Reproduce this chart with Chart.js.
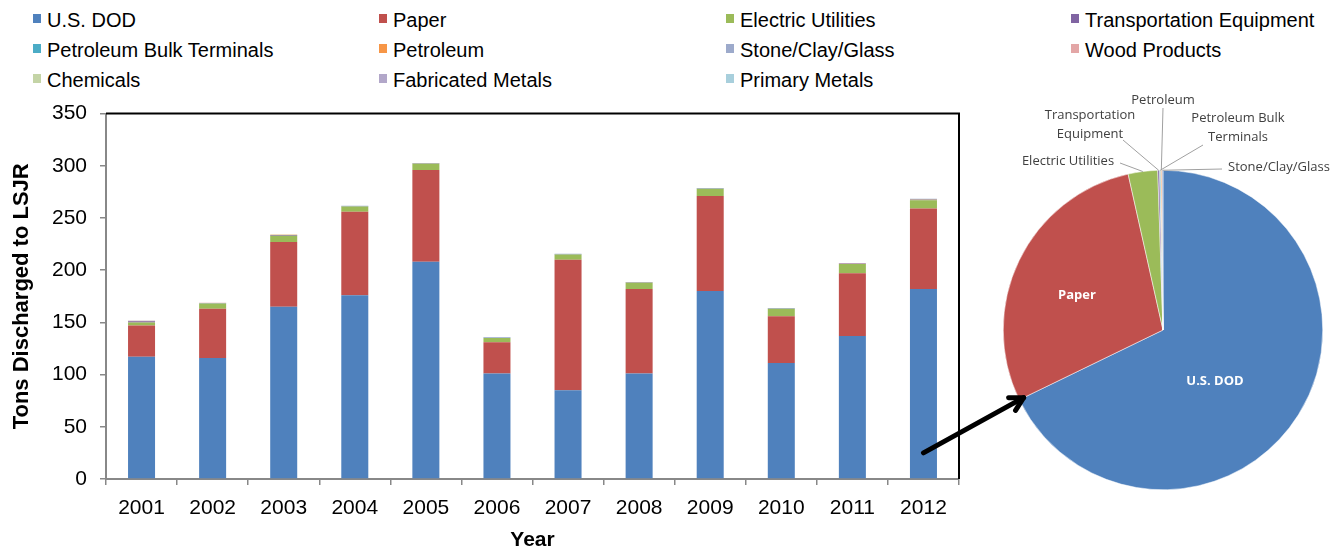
<!DOCTYPE html>
<html>
<head>
<meta charset="utf-8">
<script src="https://cdn.jsdelivr.net/npm/chart.js@4.4.1/dist/chart.umd.min.js"></script>
<style>
  html, body { margin: 0; padding: 0; background: #fff; }
  body { width: 1336px; height: 551px; position: relative; overflow: hidden; font-family: "Liberation Sans", Arial, sans-serif; }
  .lg-text { position: absolute; font-size: 20px; line-height: 20px; color: #000; white-space: nowrap; }
  .lg-box { position: absolute; width: 8px; height: 9px; }
  #barWrap { position: absolute; left: 0; top: 88px; width: 975px; height: 463px; }
  #pieWrap { position: absolute; left: 980px; top: 85px; width: 356px; height: 466px; }
  #overlay { position: absolute; left: 0; top: 0; pointer-events: none; }
</style>
</head>
<body>
<div id="legend"></div>
<div id="barWrap"><canvas id="barChart"></canvas></div>
<div id="pieWrap"><canvas id="pieChart"></canvas></div>
<canvas id="overlay" width="1336" height="551"></canvas>
<script>
// years on the x axis
var years = ['2001', '2002', '2003', '2004', '2005', '2006', '2007', '2008', '2009', '2010', '2011', '2012'];
var yTicks = [0, 50, 100, 150, 200, 250, 300, 350];

// tons discharged per source
var usDod        = [117, 116, 165, 176, 208, 101, 85, 101, 180, 111, 137, 182];
var paper        = [30, 47, 62, 80, 88, 30, 125, 81, 91, 45, 60, 77];
var electricUtil = [3, 5, 6, 5, 6, 4, 5, 6, 7, 7, 9, 8];
var transportEq  = [1, 0.3, 0.6, 0.3, 0.3, 0.3, 0.3, 0.3, 0.3, 0.3, 0.3, 0.5];
var petroBulk    = [0.2, 0.2, 0.2, 0.2, 0.2, 0.2, 0.2, 0.2, 0.2, 0.2, 0.2, 0.3];
var petroleum    = [0.1, 0.1, 0.1, 0.1, 0.1, 0.1, 0.1, 0.1, 0.1, 0.1, 0.1, 0.3];
var stoneClay    = [0.1, 0.1, 0.1, 0.1, 0.1, 0.1, 0.1, 0.1, 0.1, 0.1, 0.1, 0.3];
var woodProducts = [0.1, 0.1, 0, 0, 0, 0, 0, 0, 0, 0, 0, 0];
var chemicals    = [0.1, 0, 0.1, 0, 0, 0, 0, 0, 0, 0, 0, 0];
var fabMetals    = [0.1, 0, 0, 0, 0.1, 0, 0, 0, 0, 0, 0, 0];
var primMetals   = [0.1, 0, 0, 0, 0, 0, 0.1, 0, 0, 0, 0, 0];

var seriesNames = ['U.S. DOD', 'Paper', 'Electric Utilities', 'Transportation Equipment',
  'Petroleum Bulk Terminals', 'Petroleum', 'Stone/Clay/Glass', 'Wood Products',
  'Chemicals', 'Fabricated Metals', 'Primary Metals'];
var seriesValues = [usDod, paper, electricUtil, transportEq, petroBulk, petroleum,
  stoneClay, woodProducts, chemicals, fabMetals, primMetals];
var seriesColors = ['#4F81BD', '#C0504D', '#9BBB59', '#8064A2', '#4BACC6', '#F79646',
  '#9DAACB', '#E3A6A6', '#C4D4A6', '#B2A7C9', '#A8CFDC'];

Chart.defaults.font.family = '"Liberation Sans", Arial, sans-serif';
Chart.defaults.color = '#000';

// legend in 4 columns, row by row
var legendCols = [47, 393, 740, 1085];
var legendRows = [20, 50, 80];
var legendDiv = document.getElementById('legend');
seriesNames.forEach(function (name, i) {
  var cx = legendCols[i % 4];
  var cy = legendRows[Math.floor(i / 4)];
  var box = document.createElement('div');
  box.className = 'lg-box';
  box.style.left = (cx - 14) + 'px';
  box.style.top = (cy - 6) + 'px';
  box.style.background = seriesColors[i];
  var txt = document.createElement('div');
  txt.className = 'lg-text';
  txt.style.left = cx + 'px';
  txt.style.top = (cy - 10) + 'px';
  txt.textContent = name;
  legendDiv.appendChild(box);
  legendDiv.appendChild(txt);
});

// black frame on top and right of the plot area
var plotFrame = {
  id: 'plotFrame',
  afterDatasetsDraw: function (chart) {
    var a = chart.chartArea, ctx = chart.ctx;
    ctx.save();
    ctx.strokeStyle = '#000';
    ctx.lineWidth = 2;
    ctx.beginPath();
    ctx.moveTo(a.left, a.top);
    ctx.lineTo(a.right, a.top);
    ctx.lineTo(a.right, a.bottom);
    ctx.stroke();
    ctx.restore();
  }
};

var barChart = new Chart(document.getElementById('barChart'), {
  type: 'bar',
  data: {
    labels: years,
    datasets: seriesNames.map(function (n, i) {
      return {
        label: n,
        data: seriesValues[i],
        backgroundColor: seriesColors[i],
        borderWidth: 0,
        barPercentage: 0.38,
        categoryPercentage: 1
      };
    })
  },
  options: {
    responsive: true,
    maintainAspectRatio: false,
    animation: false,
    layout: { padding: { top: 1, right: 16, left: 0, bottom: 0 } },
    plugins: { legend: { display: false }, tooltip: { enabled: false } },
    scales: {
      x: {
        stacked: true,
        grid: { drawOnChartArea: false, drawTicks: true, tickLength: 6, color: '#888', lineWidth: 1.5 },
        border: { color: '#888', width: 2 },
        ticks: { font: { size: 21 }, padding: 11, color: '#000' },
        title: { display: true, text: 'Year', font: { size: 21, weight: 'bold', lineHeight: 1 }, padding: 0, color: '#000' },
        afterFit: function (s) { s.height = 72; }
      },
      y: {
        stacked: true,
        min: 0,
        max: 350,
        afterBuildTicks: function (s) { s.ticks = yTicks.map(function (v) { return { value: v }; }); },
        grid: { drawOnChartArea: false, drawTicks: true, tickLength: 6, color: '#888', lineWidth: 1.5 },
        border: { color: '#888', width: 2 },
        ticks: { font: { size: 21 }, padding: 13, color: '#000' },
        title: { display: true, text: 'Tons Discharged to LSJR', font: { size: 22, weight: 'bold' }, padding: 9, color: '#000' },
        afterFit: function (s) { s.width = 106; }
      }
    }
  },
  plugins: [plotFrame]
});

// pie label positions, relative to the pie centre
var pieLabelLayout = {
  'U.S. DOD': { inside: true, x: 52, y: 51 },
  'Paper': { inside: true, x: -86, y: -35 },
  'Electric Utilities': { lines: ['Electric Utilities'], x: -95, y: -169, lx: -43, ly: -167 },
  'Transportation Equipment': { lines: ['Transportation', 'Equipment'], x: -73, y: -215, lx: -40, ly: -190 },
  'Petroleum': { lines: ['Petroleum'], x: 0, y: -230, lx: 0, ly: -222 },
  'Petroleum Bulk Terminals': { lines: ['Petroleum Bulk', 'Terminals'], x: 75, y: -212, lx: 40, ly: -185 },
  'Stone/Clay/Glass': { lines: ['Stone/Clay/Glass'], x: 116, y: -163, lx: 59, ly: -161 }
};

var pieLabels = {
  id: 'pieLabels',
  afterDraw: function (chart) {
    var ctx = chart.ctx;
    var arcs = chart.getDatasetMeta(0).data;
    ctx.save();
    ctx.textAlign = 'center';
    ctx.textBaseline = 'middle';
    arcs.forEach(function (arc, i) {
      var lay = pieLabelLayout[seriesNames[i]];
      if (!lay) return;
      var cx = arc.x, cy = arc.y;
      if (lay.inside) {
        ctx.fillStyle = '#fff';
        ctx.font = 'bold 13px "Open Sans", sans-serif';
        ctx.fillText(seriesNames[i], cx + lay.x, cy + lay.y);
        return;
      }
      var mid = (arc.startAngle + arc.endAngle) / 2;
      var px = cx + Math.cos(mid) * arc.outerRadius;
      var py = cy + Math.sin(mid) * arc.outerRadius;
      ctx.strokeStyle = '#a0a0a0';
      ctx.lineWidth = 1;
      ctx.beginPath();
      ctx.moveTo(cx + lay.lx, cy + lay.ly);
      ctx.lineTo(px, py);
      ctx.stroke();
      ctx.fillStyle = '#404040';
      ctx.font = '13px "Open Sans", sans-serif';
      lay.lines.forEach(function (t, k) {
        ctx.fillText(t, cx + lay.x, cy + lay.y + k * 19);
      });
    });
    ctx.restore();
  }
};

var pieChart = new Chart(document.getElementById('pieChart'), {
  type: 'pie',
  data: {
    labels: seriesNames,
    datasets: [{
      data: seriesValues.map(function (v) { return v[11]; }),
      backgroundColor: seriesColors,
      borderWidth: 0.5,
      borderColor: '#fff'
    }]
  },
  options: {
    responsive: true,
    maintainAspectRatio: false,
    animation: false,
    layout: { padding: { left: 23, right: 13, top: 85, bottom: 61 } },
    plugins: { legend: { display: false }, tooltip: { enabled: false } }
  },
  plugins: [pieLabels]
});

// arrow from the 2012 bar to the U.S. DOD slice edge
function drawArrow() {
  var ov = document.getElementById('overlay').getContext('2d');
  var barRect = document.getElementById('barChart').getBoundingClientRect();
  var pieRect = document.getElementById('pieChart').getBoundingClientRect();
  var bar = barChart.getDatasetMeta(0).data[11];
  var sx = barRect.left + bar.x;
  var sy = barRect.top + barChart.scales.y.getPixelForValue(25);
  var arc = pieChart.getDatasetMeta(0).data[0];
  var ex = pieRect.left + arc.x + Math.cos(arc.endAngle) * arc.outerRadius * 0.97;
  var ey = pieRect.top + arc.y + Math.sin(arc.endAngle) * arc.outerRadius * 0.97;
  var ang = Math.atan2(ey - sy, ex - sx);
  ov.clearRect(0, 0, 1336, 551);
  ov.strokeStyle = '#000';
  ov.lineWidth = 5;
  ov.lineCap = 'round';
  ov.lineJoin = 'round';
  ov.beginPath();
  ov.moveTo(sx, sy);
  ov.lineTo(ex, ey);
  ov.stroke();
  ov.beginPath();
  ov.moveTo(ex - 15 * Math.cos(ang - 0.5), ey - 15 * Math.sin(ang - 0.5));
  ov.lineTo(ex, ey);
  ov.lineTo(ex - 15 * Math.cos(ang + 0.5), ey - 15 * Math.sin(ang + 0.5));
  ov.stroke();
}
drawArrow();
</script>
</body>
</html>
